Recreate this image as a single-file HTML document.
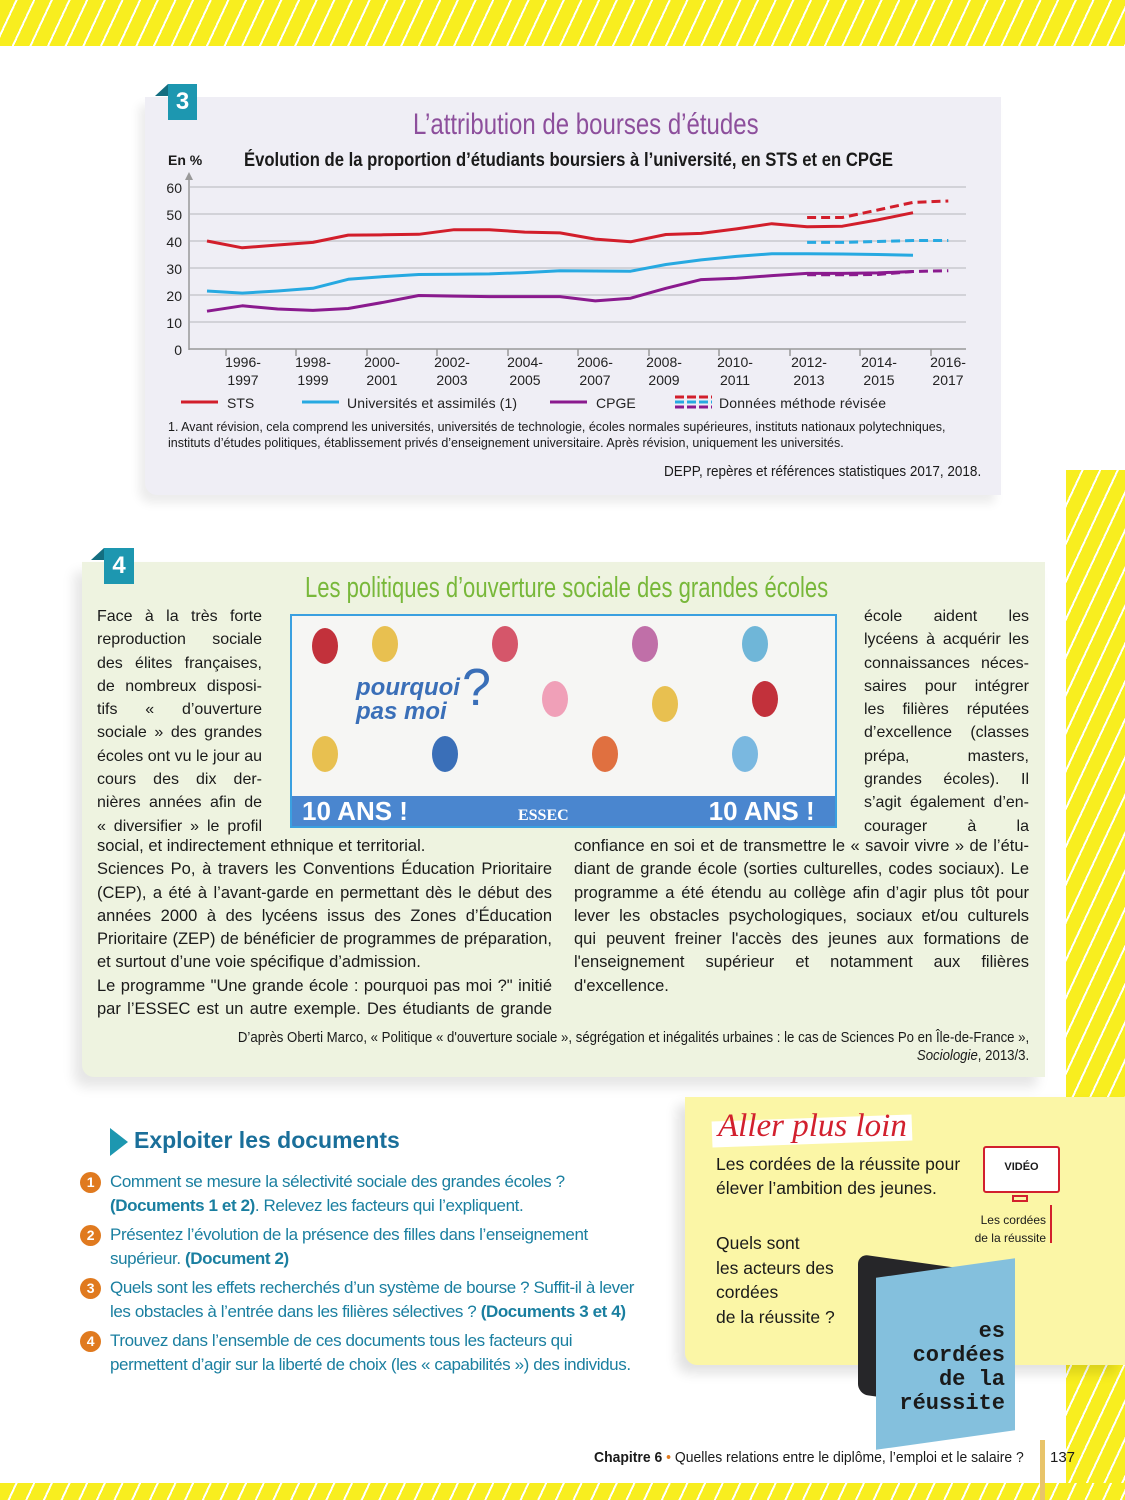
<!DOCTYPE html>
<html><head><meta charset="utf-8"><style>
*{margin:0;padding:0;box-sizing:border-box}
body{width:1125px;height:1500px;position:relative;overflow:hidden;background:#fff;font-family:"Liberation Sans",sans-serif;color:#1a1a1a}
.stripe{position:absolute;background:#f8ee1f repeating-linear-gradient(115deg,transparent 0 14px,#fff 14px 16px)}
.abs{position:absolute}
.sx{white-space:nowrap;transform-origin:left top}
.j div{text-align:justify;text-align-last:justify;white-space:nowrap}
.col div{height:23.3px;line-height:23.3px}
</style></head><body>
<div class="stripe" style="left:0;top:0;width:1125px;height:46px"></div>
<div class="stripe" style="left:1066px;top:470px;width:59px;height:1030px"></div>
<div class="stripe" style="left:0;top:1483px;width:1125px;height:17px"></div>
<div class="abs" style="left:1040px;top:1440px;width:5px;height:60px;background:#e8c46a"></div>

<!-- Doc 3 -->
<div class="abs" style="left:145px;top:97px;width:856px;height:398px;background:#efeef5;border-radius:0 0 0 12px;box-shadow:-6px 8px 10px rgba(0,0,0,.08)"></div>
<div class="abs" style="left:168px;top:84px;width:29px;height:36px;background:#1d97b0;color:#fff;font-size:24px;font-weight:bold;text-align:center;line-height:36px">3</div>
<div class="abs" style="left:155px;top:84px;width:0;height:0;border-top:12px solid transparent;border-right:13px solid #136e80"></div>
<div class="abs sx" style="left:413px;top:108px;font-size:30px;color:#8d4f9c;transform:scaleX(0.8)">L’attribution de bourses d’études</div>
<div class="abs" style="left:168px;top:152px;font-size:14px;font-weight:bold">En %</div>
<div class="abs sx" style="left:244px;top:150px;font-size:19px;font-weight:bold;transform:scaleX(0.877)">Évolution de la proportion d’étudiants boursiers à l’université, en STS et en CPGE</div>
<svg class="abs" style="left:0;top:0" width="1125" height="500">
<g stroke="#d2d2d8" stroke-width="2">
<line x1="190" y1="187" x2="966" y2="187"/><line x1="190" y1="214" x2="966" y2="214"/><line x1="190" y1="241" x2="966" y2="241"/><line x1="190" y1="268" x2="966" y2="268"/><line x1="190" y1="295" x2="966" y2="295"/><line x1="190" y1="322" x2="966" y2="322"/></g>
<line x1="189" y1="176" x2="189" y2="350" stroke="#999" stroke-width="1.5"/>
<polygon points="185,180 189,172 193,180" fill="#999"/>
<line x1="189" y1="349" x2="966" y2="349" stroke="#999" stroke-width="1.5"/>
<g stroke="#999" stroke-width="1.5"><line x1="226" y1="349" x2="226" y2="356"/><line x1="296" y1="349" x2="296" y2="356"/><line x1="367" y1="349" x2="367" y2="356"/><line x1="437" y1="349" x2="437" y2="356"/><line x1="508" y1="349" x2="508" y2="356"/><line x1="578" y1="349" x2="578" y2="356"/><line x1="649" y1="349" x2="649" y2="356"/><line x1="719" y1="349" x2="719" y2="356"/><line x1="790" y1="349" x2="790" y2="356"/><line x1="860" y1="349" x2="860" y2="356"/><line x1="931" y1="349" x2="931" y2="356"/></g>
<g font-family="Liberation Sans,sans-serif" font-size="14" text-anchor="end" fill="#222"><text x="182" y="193">60</text><text x="182" y="220">50</text><text x="182" y="247">40</text><text x="182" y="274">30</text><text x="182" y="301">20</text><text x="182" y="328">10</text><text x="182" y="355">0</text></g>
<g font-family="Liberation Sans,sans-serif" font-size="14" text-anchor="middle" fill="#222" transform="scale(1,1)">
<text x="243" y="367">1996-</text><text x="243" y="385">1997</text>
<text x="313" y="367">1998-</text><text x="313" y="385">1999</text>
<text x="382" y="367">2000-</text><text x="382" y="385">2001</text>
<text x="452" y="367">2002-</text><text x="452" y="385">2003</text>
<text x="525" y="367">2004-</text><text x="525" y="385">2005</text>
<text x="595" y="367">2006-</text><text x="595" y="385">2007</text>
<text x="664" y="367">2008-</text><text x="664" y="385">2009</text>
<text x="735" y="367">2010-</text><text x="735" y="385">2011</text>
<text x="809" y="367">2012-</text><text x="809" y="385">2013</text>
<text x="879" y="367">2014-</text><text x="879" y="385">2015</text>
<text x="948" y="367">2016-</text><text x="948" y="385">2017</text></g>
<g fill="none" stroke-width="3" stroke-linejoin="round">
<polyline stroke="#d21e2b" points="207,241 242.3,247.8 277.6,245 312.9,242.4 348.2,235.1 383.5,234.8 418.8,234.3 454.1,229.7 489.4,229.7 524.7,232.1 560,232.9 595.3,239.1 630.6,241.8 665.9,234.5 701.2,233.4 736.5,228.9 771.8,223.7 807.1,226.7 842.4,226.2 877.7,219.9 913,212.7"/>
<polyline stroke="#d21e2b" stroke-dasharray="9,5" points="807.1,217.5 842.4,217.5 877.7,210 913,202.4 948.3,201"/>
<polyline stroke="#27a9e1" points="207,291 242.3,293.1 277.6,291 312.9,288.3 348.2,279.3 383.5,276.6 418.8,274.5 454.1,274.2 489.4,273.9 524.7,272.6 560,270.7 595.3,271 630.6,271.2 665.9,264.5 701.2,259.9 736.5,256.4 771.8,253.7 807.1,253.7 842.4,254 877.7,254.5 913,255.3"/>
<polyline stroke="#27a9e1" stroke-dasharray="9,5" points="807.1,242.4 842.4,242.4 877.7,241.5 913,240.5 948.3,240.5"/>
<polyline stroke="#8a1a8e" points="207,311.2 242.3,305.8 277.6,309 312.9,310.4 348.2,308.5 383.5,302.3 418.8,295.5 454.1,296.1 489.4,296.6 524.7,296.6 560,296.6 595.3,300.9 630.6,298.2 665.9,288.3 701.2,279.6 736.5,278.3 771.8,275.6 807.1,273.4 842.4,273.4 877.7,272.9 913,271.5"/>
<polyline stroke="#8a1a8e" stroke-dasharray="9,5" points="807.1,274.8 842.4,274.8 877.7,274.5 913,271.5 948.3,270.7"/>
</g>
<line x1="181" y1="402" x2="218" y2="402" stroke="#d21e2b" stroke-width="3"/>
<line x1="302" y1="402" x2="339" y2="402" stroke="#27a9e1" stroke-width="3"/>
<line x1="550" y1="402" x2="587" y2="402" stroke="#8a1a8e" stroke-width="3"/>
<g stroke-width="3" stroke-dasharray="9,3"><line x1="675" y1="397" x2="712" y2="397" stroke="#d21e2b"/><line x1="675" y1="402" x2="712" y2="402" stroke="#27a9e1"/><line x1="675" y1="407" x2="712" y2="407" stroke="#8a1a8e"/></g>
<g font-family="Liberation Sans,sans-serif" font-size="14" fill="#222"><text x="227" y="408">STS</text><text x="347" y="408" textLength="170">Universités et assimilés (1)</text><text x="596" y="408">CPGE</text><text x="719" y="408" textLength="167">Données méthode révisée</text></g>
</svg>
<div class="abs sx" style="left:168px;top:419px;font-size:13px;line-height:16px;transform:scaleX(0.96)">1. Avant révision, cela comprend les universités, universités de technologie, écoles normales supérieures, instituts nationaux polytechniques,<br>instituts d’études politiques, établissement privés d’enseignement universitaire. Après révision, uniquement les universités.</div>
<div class="abs sx" style="left:664px;top:463px;font-size:15px;transform:scaleX(0.9)">DEPP, repères et références statistiques 2017, 2018.</div>

<!-- Doc 4 -->
<div class="abs" style="left:82px;top:562px;width:963px;height:515px;background:#eef3e0;border-radius:0 0 0 12px;box-shadow:-8px 10px 12px rgba(0,0,0,.1)"></div>
<div class="abs" style="left:104px;top:548px;width:30px;height:36px;background:#1d97b0;color:#fff;font-size:24px;font-weight:bold;text-align:center;line-height:36px">4</div>
<div class="abs" style="left:91px;top:548px;width:0;height:0;border-top:12px solid transparent;border-right:13px solid #136e80"></div>
<div class="abs sx" style="left:305px;top:572px;font-size:29px;color:#78b83a;transform:scaleX(0.76)">Les politiques d’ouverture sociale des grandes écoles</div>
<div class="abs" style="left:290px;top:614px;width:547px;height:214px;border:2px solid #3aa0e0;background:#f6f6f4;overflow:hidden">
 <div class="abs" style="left:64px;top:60px;font-size:24px;color:#3a6fb8;font-weight:bold;line-height:24px;font-style:italic">pourquoi<br>pas moi</div>
 <div class="abs" style="left:170px;top:42px;font-size:52px;color:#3a6fb8">?</div>
 <div class="abs" style="left:0;bottom:0;width:100%;height:30px;background:#4a86cf;color:#fff;font-weight:bold;font-size:26px;line-height:30px"><span style="margin-left:10px">10 ANS !</span><span style="margin-left:110px;font-size:16px;font-family:'Liberation Serif',serif">ESSEC</span><span style="margin-left:140px">10 ANS !</span></div>
 <div class="abs" style="left:20px;top:12px;width:26px;height:36px;border-radius:50%;background:#c2313b"></div>
 <div class="abs" style="left:80px;top:10px;width:26px;height:36px;border-radius:50%;background:#e8c050"></div>
 <div class="abs" style="left:200px;top:10px;width:26px;height:36px;border-radius:50%;background:#d5566a"></div>
 <div class="abs" style="left:340px;top:10px;width:26px;height:36px;border-radius:50%;background:#c06fa8"></div>
 <div class="abs" style="left:450px;top:10px;width:26px;height:36px;border-radius:50%;background:#6fb6d8"></div>
 <div class="abs" style="left:460px;top:65px;width:26px;height:36px;border-radius:50%;background:#c2313b"></div>
 <div class="abs" style="left:360px;top:70px;width:26px;height:36px;border-radius:50%;background:#e8c050"></div>
 <div class="abs" style="left:250px;top:65px;width:26px;height:36px;border-radius:50%;background:#f0a0b8"></div>
 <div class="abs" style="left:20px;top:120px;width:26px;height:36px;border-radius:50%;background:#e8c050"></div>
 <div class="abs" style="left:140px;top:120px;width:26px;height:36px;border-radius:50%;background:#3a6fb8"></div>
 <div class="abs" style="left:300px;top:120px;width:26px;height:36px;border-radius:50%;background:#e07040"></div>
 <div class="abs" style="left:440px;top:120px;width:26px;height:36px;border-radius:50%;background:#7ab8e0"></div>
</div>
<div class="abs j col" style="left:97px;top:605px;width:165px;font-size:16px">
<div>Face à la très forte</div><div>reproduction sociale</div><div>des élites françaises,</div><div>de nombreux disposi-</div><div>tifs « d’ouverture</div><div>sociale » des grandes</div><div>écoles ont vu le jour au</div><div>cours des dix der-</div><div>nières années afin de</div><div>« diversifier » le profil</div></div>
<div class="abs j col" style="left:864px;top:605px;width:165px;font-size:16px">
<div>école aident les</div><div>lycéens à acquérir les</div><div>connaissances néces-</div><div>saires pour intégrer</div><div>les filières réputées</div><div>d’excellence (classes</div><div>prépa, masters,</div><div>grandes écoles). Il</div><div>s’agit également d’en-</div><div>courager à la</div></div>
<div class="abs j col" style="left:97px;top:835px;width:455px;font-size:16.5px">
<div style="text-align-last:left">social, et indirectement ethnique et territorial.</div><div>Sciences Po, à travers les Conventions Éducation Prioritaire</div><div>(CEP), a été à l’avant-garde en permettant dès le début des</div><div>années 2000 à des lycéens issus des Zones d’Éducation</div><div>Prioritaire (ZEP) de bénéficier de programmes de préparation,</div><div style="text-align-last:left">et surtout d’une voie spécifique d’admission.</div><div>Le programme "Une grande école : pourquoi pas moi ?" initié</div><div>par l’ESSEC est un autre exemple. Des étudiants de grande</div></div>
<div class="abs j col" style="left:574px;top:835px;width:455px;font-size:16.5px">
<div>confiance en soi et de transmettre le « savoir vivre » de l’étu-</div><div>diant de grande école (sorties culturelles, codes sociaux). Le</div><div>programme a été étendu au collège afin d’agir plus tôt pour</div><div>lever les obstacles psychologiques, sociaux et/ou culturels</div><div>qui peuvent freiner l'accès des jeunes aux formations de</div><div>l'enseignement supérieur et notamment aux filières</div><div style="text-align-last:left">d'excellence.</div></div>
<div class="abs" style="right:96px;top:1029px;font-size:15px;line-height:18px;white-space:nowrap;text-align:right;transform:scaleX(0.88);transform-origin:right top">D’après Oberti Marco, « Politique « d'ouverture sociale », ségrégation et inégalités urbaines : le cas de Sciences Po en Île-de-France »,<br><i>Sociologie</i>, 2013/3.</div>

<!-- Exploiter -->
<div class="abs" style="left:110px;top:1128px;width:0;height:0;border-top:14px solid transparent;border-bottom:14px solid transparent;border-left:18px solid #1d97b0"></div>
<div class="abs" style="left:134px;top:1127px;font-size:23px;font-weight:bold;color:#1a6f9a">Exploiter les documents</div>
<div class="abs" style="left:80px;top:1170px;font-size:17px;line-height:24px;color:#1a7fa0;width:600px;letter-spacing:-.4px">
<div style="position:relative;padding-left:30px;margin-bottom:5px"><span style="position:absolute;left:0;top:2px;width:21px;height:21px;border-radius:50%;background:#e07a1f;color:#fff;font-weight:bold;font-size:14px;text-align:center;line-height:21px">1</span>Comment se mesure la sélectivité sociale des grandes écoles ?<br><b>(Documents 1 et 2)</b>. Relevez les facteurs qui l’expliquent.</div>
<div style="position:relative;padding-left:30px;margin-bottom:5px"><span style="position:absolute;left:0;top:2px;width:21px;height:21px;border-radius:50%;background:#e07a1f;color:#fff;font-weight:bold;font-size:14px;text-align:center;line-height:21px">2</span>Présentez l’évolution de la présence des filles dans l’enseignement<br>supérieur. <b>(Document 2)</b></div>
<div style="position:relative;padding-left:30px;margin-bottom:5px"><span style="position:absolute;left:0;top:2px;width:21px;height:21px;border-radius:50%;background:#e07a1f;color:#fff;font-weight:bold;font-size:14px;text-align:center;line-height:21px">3</span>Quels sont les effets recherchés d’un système de bourse ? Suffit-il à lever<br>les obstacles à l’entrée dans les filières sélectives ? <b>(Documents 3 et 4)</b></div>
<div style="position:relative;padding-left:30px"><span style="position:absolute;left:0;top:2px;width:21px;height:21px;border-radius:50%;background:#e07a1f;color:#fff;font-weight:bold;font-size:14px;text-align:center;line-height:21px">4</span>Trouvez dans l’ensemble de ces documents tous les facteurs qui<br>permettent d’agir sur la liberté de choix (les « capabilités ») des individus.</div>
</div>

<!-- Aller plus loin -->
<div class="abs" style="left:685px;top:1097px;width:440px;height:268px;background:#fbf6a6;border-radius:0 0 0 12px;box-shadow:-8px 8px 12px rgba(0,0,0,.12)"></div>
<div class="abs" style="left:712px;top:1118px;width:200px;height:26px;background:#fff;transform:rotate(-2deg)"></div>
<div class="abs" style="left:718px;top:1108px;font-family:'Liberation Serif',serif;font-style:italic;font-size:33px;color:#d2202e">Aller plus loin</div>
<div class="abs" style="left:716px;top:1152px;font-size:17.5px;line-height:24px">Les cordées de la réussite pour<br>élever l’ambition des jeunes.</div>
<div class="abs" style="left:716px;top:1231px;font-size:17.5px;line-height:24.5px">Quels sont<br>les acteurs des<br>cordées<br>de la réussite ?</div>
<div class="abs" style="left:983px;top:1146px;width:77px;height:47px;border:2.5px solid #d2202e;border-radius:3px;background:#fff;text-align:center;font-size:11px;font-weight:bold;line-height:38px">VIDÉO</div>
<div class="abs" style="left:1012px;top:1195px;width:16px;height:7px;border:2px solid #d2202e"></div>
<div class="abs" style="left:1050px;top:1205px;width:2px;height:38px;background:#d2202e"></div>
<div class="abs" style="left:960px;top:1211px;width:86px;text-align:right;font-size:12px;line-height:18px">Les cordées<br>de la réussite</div>
<div class="abs" style="left:858px;top:1261px;width:100px;height:140px;background:#262629;border-radius:10px 0 0 10px;transform:skewY(8deg)"></div>
<div class="abs" style="left:876px;top:1268px;width:139px;height:172px;background:#84c0dd;transform:skewY(-8deg)"></div>
<div class="abs" style="left:895px;top:1320px;font-size:22px;font-weight:bold;line-height:24px;color:#1a1a1a;text-align:right;width:110px;font-family:'Liberation Mono',monospace">es<br>cordées<br>de la<br>réussite</div>

<div class="abs sx" style="left:594px;top:1449px;font-size:15px;transform:scaleX(0.93)"><b>Chapitre 6</b> <span style="color:#e07a1f">•</span> Quelles relations entre le diplôme, l’emploi et le salaire ?</div>
<div class="abs" style="left:1050px;top:1449px;font-size:15px">137</div>
</body></html>
